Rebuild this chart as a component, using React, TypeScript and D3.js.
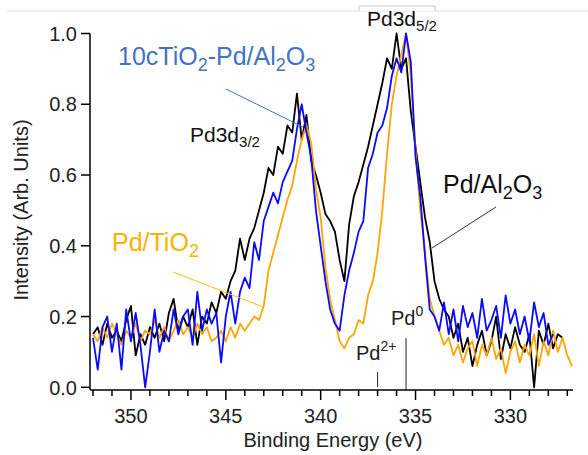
import React from "react";
import * as d3 from "d3";

// binding energy grid: first point and step (eV)
const eStart = 352;
const eStep = 0.25;

const pdAl2O3 = [
  0.15, 0.17, 0.12, 0.18, 0.14, 0.16, 0.13, 0.19, 0.23, 0.09,
  0.15, 0.12, 0.17, 0.14, 0.18, 0.13, 0.21, 0.25, 0.16, 0.2,
  0.17, 0.22, 0.12, 0.2, 0.18, 0.24, 0.21, 0.27, 0.25, 0.3,
  0.33, 0.42, 0.36, 0.42, 0.45, 0.5, 0.55, 0.62, 0.6, 0.68,
  0.66, 0.74, 0.72, 0.83, 0.7, 0.77, 0.64, 0.6, 0.55, 0.49,
  0.47, 0.44, 0.36, 0.3, 0.46, 0.54, 0.58, 0.63, 0.68, 0.74,
  0.8, 0.86, 0.93, 0.9, 1.0, 0.9, 0.93, 0.78, 0.68, 0.58,
  0.48, 0.41, 0.3, 0.25, 0.22, 0.2, 0.14, 0.18, 0.1, 0.14,
  0.06, 0.12, 0.16, 0.09, 0.13, 0.2, 0.08, 0.15, 0.11, 0.17,
  0.12, 0.1, 0.15, 0.0, 0.16, 0.12, 0.18, 0.11, 0.15, 0.14,
];

const tiPdAl2O3 = [
  0.14, 0.05, 0.17, 0.2, 0.1, 0.18, 0.05, 0.22, 0.13, 0.21,
  0.12, 0.0, 0.1, 0.22, 0.1, 0.16, 0.13, 0.22, 0.15, 0.2,
  0.22, 0.12, 0.27, 0.16, 0.22, 0.18, 0.21, 0.07, 0.2, 0.27,
  0.18, 0.27, 0.31, 0.28, 0.41, 0.36, 0.47, 0.51, 0.55, 0.52,
  0.58, 0.61, 0.64, 0.73, 0.8, 0.72, 0.65, 0.5, 0.4, 0.3,
  0.22, 0.18, 0.16, 0.26, 0.33, 0.38, 0.44, 0.47, 0.62, 0.66,
  0.72, 0.74, 0.79, 0.88, 0.93, 0.89, 1.0, 0.92, 0.65, 0.54,
  0.37, 0.22, 0.2, 0.16, 0.24, 0.15, 0.22, 0.13, 0.23, 0.17,
  0.21, 0.14, 0.25, 0.16, 0.19, 0.23, 0.14, 0.26, 0.18, 0.22,
  0.15, 0.2, 0.13, 0.24, 0.17, 0.21, 0.12, 0.15,
];

const pdTiO2 = [
  0.15, 0.13, 0.17, 0.14, 0.18, 0.15, 0.12, 0.16, 0.14, 0.18,
  0.13, 0.16, 0.15, 0.19, 0.14, 0.17, 0.13, 0.16, 0.19, 0.15,
  0.17, 0.14, 0.18, 0.15, 0.17, 0.13, 0.14, 0.16, 0.13, 0.17,
  0.14, 0.18, 0.16, 0.18, 0.2, 0.19, 0.23, 0.33, 0.38, 0.43,
  0.48, 0.53, 0.57, 0.64, 0.7, 0.74, 0.69, 0.56, 0.48, 0.34,
  0.25, 0.19, 0.13, 0.11, 0.14, 0.15, 0.19, 0.18, 0.26, 0.3,
  0.38, 0.5, 0.66, 0.8, 0.88, 0.94, 1.0, 0.88, 0.67, 0.5,
  0.38, 0.25, 0.2, 0.16, 0.12, 0.14, 0.09, 0.12, 0.07, 0.11,
  0.13, 0.06, 0.12, 0.09, 0.14, 0.08, 0.11, 0.04, 0.1, 0.13,
  0.07, 0.12, 0.09, 0.15, 0.06, 0.13, 0.09, 0.16, 0.1, 0.14,
  0.09, 0.06,
];

const yTicks = [0, 0.2, 0.4, 0.6, 0.8, 1.0];
const xMajor = [350, 345, 340, 335, 330];
const pdMarkers = [
  { label: "2+", energy: 337.0, top: 372 },
  { label: "0", energy: 335.5, top: 338 },
];

const font = "'Liberation Sans', Arial, sans-serif";

export default function App() {
  const x = d3.scaleLinear().domain([352, 326.7]).range([93, 573]);
  const y = d3.scaleLinear().domain([0, 1]).range([387.3, 33.5]);
  const axisY = 390;
  const axisX = 90;

  const line = d3
    .line<number>()
    .x((d, i) => x(eStart - i * eStep))
    .y((d) => y(d));

  const minor = d3.range(352, 326.5, -1);

  return (
    <svg
      width={588}
      height={455}
      style={{ position: "absolute", left: 0, top: 0, background: "#fff" }}
      fontFamily={font}
    >
      {/* faint frame at top */}
      <line x1={7} x2={588} y1={11} y2={11} stroke="#dcdcdc" strokeWidth={1} />
      <path d="M359,11 V6 H435 V11" fill="#fff" stroke="#c8c8c8" strokeWidth={1} />

      {/* spectra */}
      <path d={line(pdAl2O3) ?? ""} fill="none" stroke="#000" strokeWidth={1.8} strokeLinejoin="round" />
      <path d={line(pdTiO2) ?? ""} fill="none" stroke="#ffa500" strokeWidth={1.8} strokeLinejoin="round" />
      <path d={line(tiPdAl2O3) ?? ""} fill="none" stroke="#0a0aff" strokeWidth={1.8} strokeLinejoin="round" />

      {/* y axis */}
      <line x1={axisX} x2={axisX} y1={y(1)} y2={axisY} stroke="#000" strokeWidth={1.5} />
      {yTicks.map((t) => (
        <g key={t}>
          <line x1={axisX - 9} x2={axisX} y1={y(t)} y2={y(t)} stroke="#000" strokeWidth={1.5} />
          <text x={77} y={y(t)} dy="0.36em" textAnchor="end" fontSize={20} fill="#222">
            {d3.format(".1f")(t)}
          </text>
        </g>
      ))}

      {/* x axis */}
      <line x1={axisX} x2={x(326.7)} y1={axisY} y2={axisY} stroke="#000" strokeWidth={1.5} />
      {minor.map((v) => (
        <line key={v} x1={x(v)} x2={x(v)} y1={axisY} y2={axisY + (v % 5 === 0 ? 10 : 6)} stroke="#000" strokeWidth={1.5} />
      ))}
      {xMajor.map((v) => (
        <text key={v} x={x(v)} y={423} textAnchor="middle" fontSize={20} fill="#222">
          {v}
        </text>
      ))}

      <text x={333} y={447} textAnchor="middle" fontSize={20} fill="#222">
        Binding Energy (eV)
      </text>
      <text transform="translate(28,210) rotate(-90)" textAnchor="middle" fontSize={20} fill="#222">
        Intensity (Arb. Units)
      </text>

      {/* Pd reference markers */}
      {pdMarkers.map((m) => (
        <line key={m.label} x1={x(m.energy)} x2={x(m.energy)} y1={m.top} y2={axisY - (m.label === "0" ? 0 : 3)} stroke="#222" strokeWidth={1} />
      ))}
      <text x={356} y={360} fontSize={20} fill="#222">
        Pd<tspan dy={-9} fontSize={14}>2+</tspan>
      </text>
      <text x={391} y={325} fontSize={20} fill="#222">
        Pd<tspan dy={-9} fontSize={14}>0</tspan>
      </text>

      {/* peak labels */}
      <text x={190} y={142} fontSize={21} fill="#111">
        Pd3d<tspan dy={5} fontSize={15}>3/2</tspan>
      </text>
      <text x={367} y={26} fontSize={21} fill="#111">
        Pd3d<tspan dy={5} fontSize={15}>5/2</tspan>
      </text>

      {/* series labels with leaders */}
      <text x={118} y={65} fontSize={25} fill="#4472c4">
        10cTiO<tspan dy={6} fontSize={18}>2</tspan>
        <tspan dy={-6}>-Pd/Al</tspan>
        <tspan dy={6} fontSize={18}>2</tspan>
        <tspan dy={-6}>O</tspan>
        <tspan dy={6} fontSize={18}>3</tspan>
      </text>
      <line x1={226} y1={89} x2={303} y2={127} stroke="#4472c4" strokeWidth={1} />

      <text x={443} y={193} fontSize={25} fill="#111">
        Pd/Al<tspan dy={6} fontSize={18}>2</tspan>
        <tspan dy={-6}>O</tspan>
        <tspan dy={6} fontSize={18}>3</tspan>
      </text>
      <line x1={496} y1={207} x2={432} y2={248} stroke="#333" strokeWidth={1} />

      <text x={112} y={251} fontSize={25} fill="#ffb000">
        Pd/TiO<tspan dy={6} fontSize={18}>2</tspan>
      </text>
      <line x1={173} y1={272} x2={263} y2={307} stroke="#ffc000" strokeWidth={1} />
    </svg>
  );
}
